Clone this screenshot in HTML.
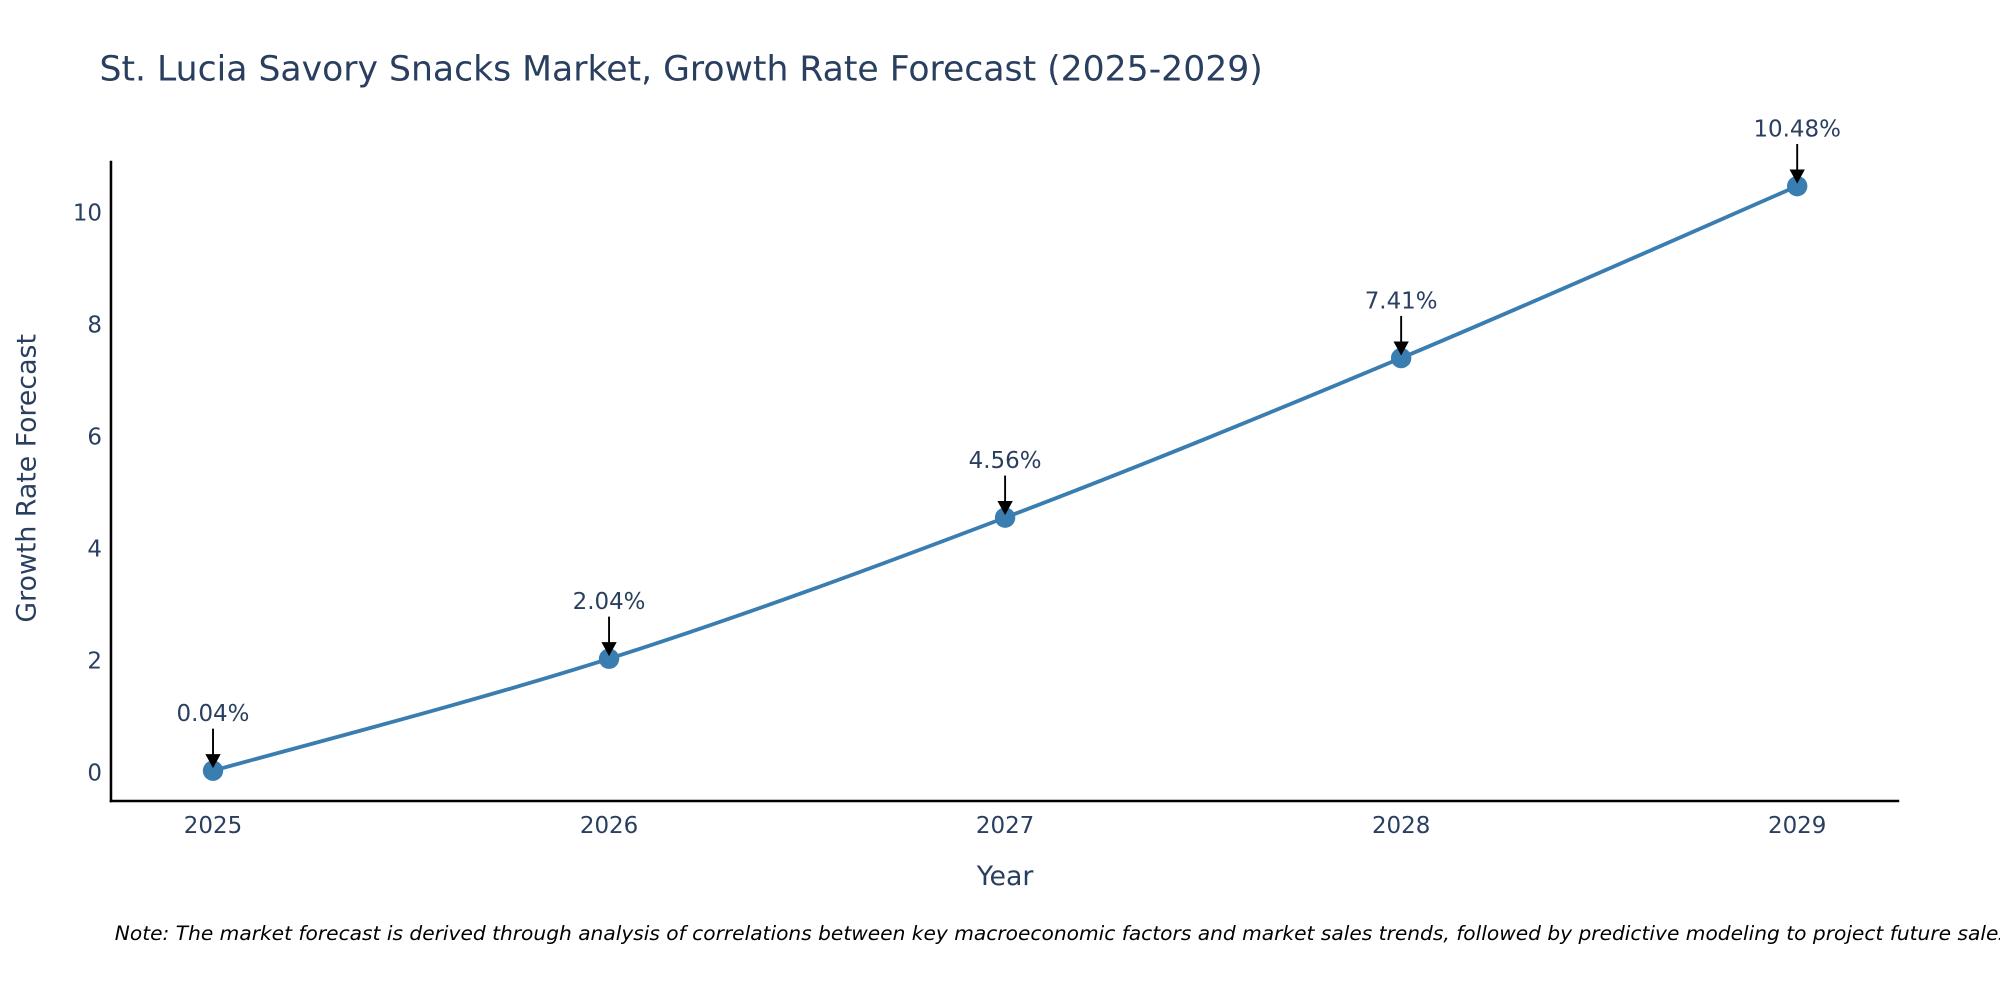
<!DOCTYPE html>
<html><head><meta charset="utf-8"><style>
html,body{margin:0;padding:0;background:#fff;}
svg{display:block;font-family:"DejaVu Sans","Liberation Sans",sans-serif;}
</style></head><body>
<svg id="chart" width="2000" height="1000" viewBox="0 0 1568 784" xmlns="http://www.w3.org/2000/svg">
<rect width="1568" height="784" fill="#fff"/>
<text x="78" y="63" font-size="27" fill="#2a3f5f" textLength="912" lengthAdjust="spacingAndGlyphs">St. Lucia Savory Snacks Market, Growth Rate Forecast (2025-2029)</text>
<g id="yticks"></g><g id="xticks"></g>
<line x1="87" y1="126" x2="87" y2="629" stroke="#000" stroke-width="2"/>
<line x1="86" y1="628" x2="1489" y2="628" stroke="#000" stroke-width="2"/>
<text transform="translate(28,375) rotate(-90)" text-anchor="middle" font-size="21" fill="#2a3f5f">Growth Rate Forecast</text>
<text x="788" y="694" text-anchor="middle" font-size="21" fill="#2a3f5f">Year</text>
<path id="line" fill="none" stroke="#3a7db0" stroke-width="3"/>
<g id="marks"></g>
<text x="90" y="737" font-size="15" font-style="italic" fill="#000" textLength="1490" lengthAdjust="spacingAndGlyphs">Note: The market forecast is derived through analysis of correlations between key macroeconomic factors and market sales trends, followed by predictive modeling to project future sales.</text>
</svg>
<script>
const years = [2025, 2026, 2027, 2028, 2029];
const growth = [0.04, 2.04, 4.56, 7.41, 10.48];
const yTickValues = [0, 2, 4, 6, 8, 10];
const labels = ["0.04%", "2.04%", "4.56%", "7.41%", "10.48%"];
const NS = "http://www.w3.org/2000/svg";
function xs(v){ return 167 + (v - 2025) * 310.5; }
function ys(v){ return 606 - v * 43.9; }
function mk(tag, attrs, parent){ const e = document.createElementNS(NS, tag); for (const k in attrs) e.setAttribute(k, attrs[k]); parent.appendChild(e); return e; }
const yg = document.getElementById('yticks'), xg = document.getElementById('xticks'), mg = document.getElementById('marks');
yTickValues.forEach(v => {
  const t = mk('text', {x: 80, y: ys(v) + 6, 'text-anchor': 'end', 'font-size': 18, fill: '#2a3f5f'}, yg);
  
  
  t.textContent = v;
});
years.forEach(v => {
  const t = mk('text', {x: xs(v), y: 653, 'text-anchor': 'middle', 'font-size': 18, fill: '#2a3f5f'}, xg);
  
  
  t.textContent = v;
});
const pts = years.map((y, i) => [xs(y), ys(growth[i])]);
let d = 'M' + pts[0][0] + ',' + pts[0][1];
for (let i = 0; i < pts.length - 1; i++) {
  const p0 = pts[Math.max(0, i - 1)], p1 = pts[i], p2 = pts[i + 1], p3 = pts[Math.min(pts.length - 1, i + 2)];
  const t = 0.17;
  const c1 = [p1[0] + (p2[0] - p0[0]) * t, p1[1] + (p2[1] - p0[1]) * t];
  const c2 = [p2[0] - (p3[0] - p1[0]) * t, p2[1] - (p3[1] - p1[1]) * t];
  d += ' C' + c1 + ' ' + c2 + ' ' + p2;
}
document.getElementById('line').setAttribute('d', d);
pts.forEach((p, i) => {
  const c = mk('circle', {cx: p[0], cy: p[1], r: 8, fill: '#3a7db0'}, mg);
  
  
  const l = mk('line', {x1: p[0], y1: p[1] - 33, x2: p[0], y2: p[1] - 12, stroke: '#000', 'stroke-width': 1.5}, mg);
  
  
  const h = mk('polygon', {points: (p[0]-6)+','+(p[1]-13)+' '+(p[0]+6)+','+(p[1]-13)+' '+p[0]+','+(p[1]-2), fill: '#000'}, mg);
  
  
  const t = mk('text', {x: p[0], y: p[1] - 39, 'text-anchor': 'middle', 'font-size': 18, fill: '#2a3f5f'}, mg);
  
  
  t.textContent = labels[i];
});
</script>
</body></html>
